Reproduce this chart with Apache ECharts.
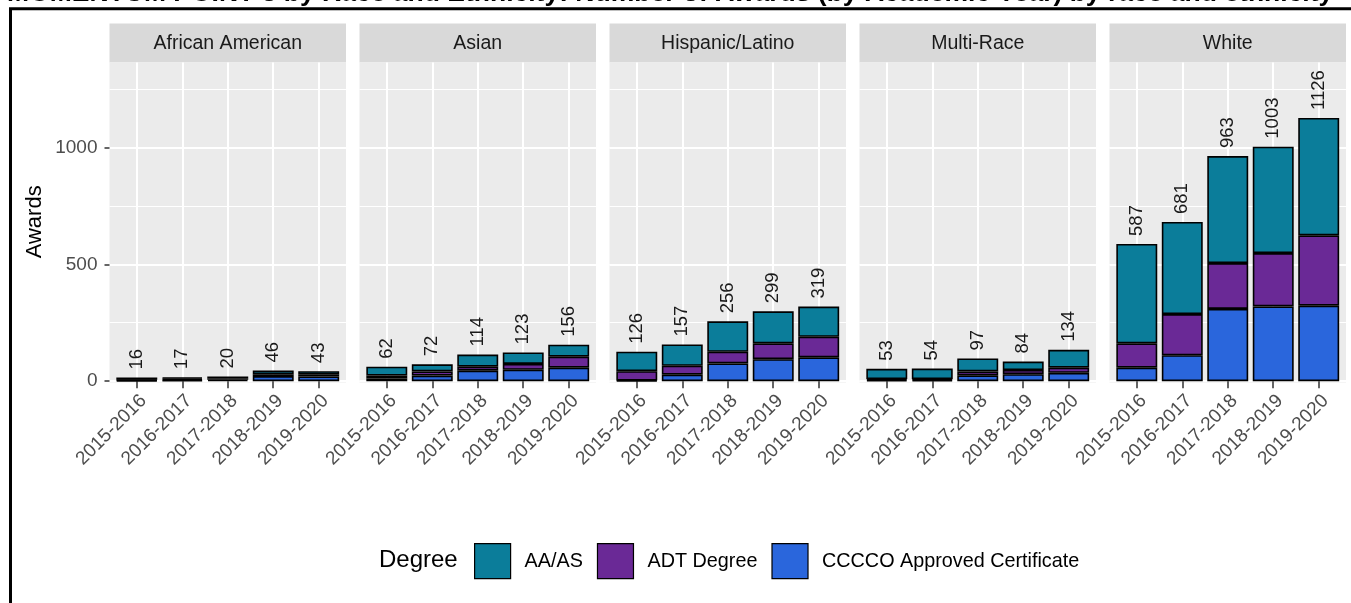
<!DOCTYPE html>
<html><head><meta charset="utf-8">
<script src="https://cdn.jsdelivr.net/npm/echarts@6/dist/echarts.min.js"></script>
<style>html,body{margin:0;padding:0;background:#fff}#c{width:1351px;height:603px}</style>
</head><body><div id="c"></div>
<script>
// ---------- data ----------
const years = ['2015-2016','2016-2017','2017-2018','2018-2019','2019-2020'];
const groups = ['African American','Asian','Hispanic/Latino','Multi-Race','White'];
const degrees = ['AA/AS','ADT Degree','CCCCO Approved Certificate'];
const yTickValues = [0, 500, 1000];
const totals      = [[16,17,20,46,43],[62,72,114,123,156],[126,157,256,299,319],[53,54,97,84,134],[587,681,963,1003,1126]];
const certificate = [[3,5,6,22,20],[12,24,45,49,58],[3,28,76,94,102],[5,5,25,30,36],[58,111,309,320,323]];
const adtDegree   = [[3,6,7,8,8],[12,18,17,25,47],[40,38,50,68,88],[4,4,17,18,22],[104,176,196,228,301]];
const aaas        = [[10,6,7,16,15],[38,30,52,49,51],[83,91,130,137,129],[44,45,55,36,76],[425,394,458,455,502]];
const mainTitle = 'MOMENTUM POINT 3 by Race and Ethnicity: Number of Awards (by Academic Year) by race and ethnicity';

// ---------- style / layout ----------
const COLORS = {'AA/AS':'#0B7D9A','ADT Degree':'#6A2996','CCCCO Approved Certificate':'#2A66DC'};
const FONT = '"Liberation Sans", Arial, Helvetica, sans-serif';
const L0 = 109.5, STEP = 250, W = 236.5, TOP = 62.5, ZERO_Y = 381.2, BOTTOM = 382.5, Y_MAX = 1363;
const BAND = W / 5.2;
const PXU = (ZERO_Y - TOP) / Y_MAX;

const grids = [], xAxes = [], yAxes = [], series = [], graphics = [];
function addGrid(g){ grids.push(Object.assign({containLabel:false}, g)); return grids.length - 1; }
const hiddenVal = gi => ({gridIndex:gi, type:'value', show:false, min:0, max:1});

for (let p = 0; p < groups.length; p++) {
  const L = L0 + STEP * p;
  // panel background
  let gi = addGrid({left:L, top:TOP, width:W, height:BOTTOM - TOP, show:true, backgroundColor:'#EBEBEB', borderWidth:0});
  xAxes.push(hiddenVal(gi)); yAxes.push(hiddenVal(gi));
  // horizontal grid lines (minor + major)
  gi = addGrid({left:L, top:TOP, width:W, height:ZERO_Y - TOP});
  xAxes.push(hiddenVal(gi));
  yAxes.push({gridIndex:gi, type:'value', min:0, max:Y_MAX, interval:250, position:'left',
    axisLine:{show:false}, axisTick:{show:false}, axisLabel:{show:false},
    splitLine:{show:true, showMaxLine:false, lineStyle:{color:['#fff','#fff','#fff','#fff','#fff','#fff','#EBEBEB'], width:1}},
    name: p === 0 ? 'Awards' : '', nameLocation:'middle', nameGap:64,
    nameTextStyle:{fontSize:22, color:'#000', fontFamily:FONT}});
  yAxes.push({gridIndex:gi, type:'value', min:0, max:Y_MAX, interval:500, position:'right',
    axisLine:{show:false}, axisTick:{show:false}, axisLabel:{show:false},
    splitLine:{show:true, showMaxLine:false, lineStyle:{color:['#fff','#fff','#fff','#EBEBEB'], width:2}}});
  // vertical grid lines at category centres
  gi = addGrid({left:L + 0.6 * BAND, top:TOP, width:4 * BAND, height:BOTTOM - TOP});
  xAxes.push({gridIndex:gi, type:'category', data:years, boundaryGap:false,
    axisLine:{show:false}, axisTick:{show:false}, axisLabel:{show:false},
    splitLine:{show:true, interval:0, lineStyle:{color:'#fff', width:2}}});
  yAxes.push(hiddenVal(gi));
  // bars
  gi = addGrid({left:L + 0.1 * BAND, top:TOP, width:5 * BAND, height:ZERO_Y - TOP});
  const xi = xAxes.length, yi = yAxes.length;
  xAxes.push({gridIndex:gi, type:'category', data:years, boundaryGap:true,
    axisLine:{show:false},
    axisTick:{show:true, alignWithLabel:true, length:7, lineStyle:{color:'#333', width:1.5}},
    axisLabel:{interval:0, rotate:45, align:'right', verticalAlign:'top', fontSize:19, color:'#4d4d4d', margin:10, fontFamily:FONT},
    splitLine:{show:false}});
  yAxes.push({gridIndex:gi, type:'value', show:false, min:0, max:Y_MAX});
  const stackData = [
    ['CCCCO Approved Certificate', certificate[p]],
    ['ADT Degree', adtDegree[p]],
    ['AA/AS', aaas[p]]
  ];
  stackData.forEach(([name, vals], k) => {
    const s = {
      type:'bar', name, xAxisIndex:xi, yAxisIndex:yi, stack:'g' + p, data:vals, barWidth:'90%',
      itemStyle:{color:COLORS[name], borderColor:'#000', borderWidth:1.6}, z:3
    };
    if (k === 2) {
      s.label = {show:true, position:'top', rotate:90, align:'left', verticalAlign:'middle', distance:8,
        fontSize:18.5, color:'#1a1a1a', fontFamily:FONT,
        formatter: prm => String(totals[p][prm.dataIndex])};
    }
    series.push(s);
  });
  // facet strip
  graphics.push({type:'rect', shape:{x:L, y:23.5, width:W, height:TOP - 23.5}, style:{fill:'#D9D9D9'}, silent:true, z:-10});
  graphics.push({type:'text', x:L + W / 2, y:43.5, silent:true,
    style:{text:groups[p], font:'19.5px ' + FONT, fill:'#1a1a1a', align:'center', verticalAlign:'middle', textAlign:'center', textVerticalAlign:'middle'}});
}

// y tick labels (left panel only)
{
  const yMaxTick = yTickValues[yTickValues.length - 1];
  const gi = addGrid({left:L0, top:ZERO_Y - yMaxTick * PXU, width:W, height:yMaxTick * PXU});
  xAxes.push(hiddenVal(gi));
  yAxes.push({gridIndex:gi, type:'value', min:yTickValues[0], max:yMaxTick, interval:yTickValues[1] - yTickValues[0],
    axisLine:{show:false}, axisTick:{show:true, length:5, lineStyle:{color:'#333', width:1.5}},
    axisLabel:{fontSize:19, color:'#4d4d4d', margin:12, fontFamily:FONT, formatter: v => String(v)},
    splitLine:{show:false}});
}

// outer frame
graphics.push({type:'polyline', shape:{points:[[10.5, 603], [10.5, 8.7], [1351, 8.7]]}, style:{stroke:'#000', lineWidth:3, fill:null}, silent:true});

const option = {
  animation:false,
  backgroundColor:'#fff',
  textStyle:{fontFamily:FONT},
  title:[
    {text:mainTitle, left:7, top:-20, padding:0, textStyle:{fontSize:26.5, fontWeight:'bold', color:'#000', fontFamily:FONT}},
    {text:'Degree', left:379, top:548, padding:0, textStyle:{fontSize:24, fontWeight:'normal', color:'#000', fontFamily:FONT}}
  ],
  legend:{data:degrees, left:474, top:543, padding:0, orient:'horizontal', itemWidth:36, itemHeight:35, itemGap:14,
    icon:'rect', selectedMode:false, itemStyle:{borderColor:'#000', borderWidth:1.2},
    textStyle:{fontSize:19.8, color:'#000', padding:[0,0,0,9], fontFamily:FONT}},
  grid:grids, xAxis:xAxes, yAxis:yAxes, series:series, graphic:graphics
};
const chart = echarts.init(document.getElementById('c'), null, {renderer:'canvas'});
chart.setOption(option);
</script></body></html>
